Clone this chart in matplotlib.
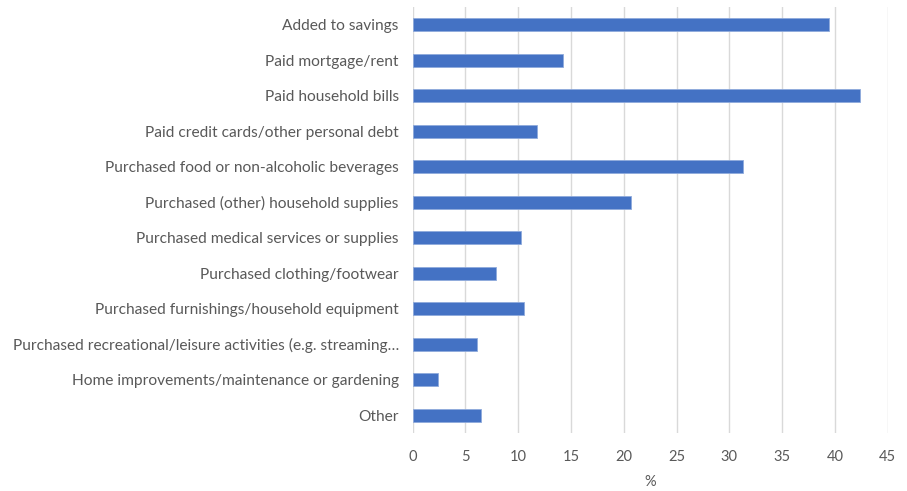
import matplotlib.pyplot as plt

plt.rcParams['font.family'] = ['Lato', 'DejaVu Sans']

categories = [
    'Added to savings',
    'Paid mortgage/rent',
    'Paid household bills',
    'Paid credit cards/other personal debt',
    'Purchased food or non-alcoholic beverages',
    'Purchased (other) household supplies',
    'Purchased medical services or supplies',
    'Purchased clothing/footwear',
    'Purchased furnishings/household equipment',
    'Purchased recreational/leisure activities (e.g. streaming\u2026',
    'Home improvements/maintenance or gardening',
    'Other',
]
values = [39.4, 14.2, 42.4, 11.8, 31.3, 20.7, 10.3, 7.9, 10.5, 6.1, 2.4, 6.5]
xticks = [0, 5, 10, 15, 20, 25, 30, 35, 40, 45]

text_col = '#595959'

fig = plt.figure(figsize=(9.07, 4.91), dpi=100)
ax = fig.add_axes([412.7 / 907, 1 - 433 / 491, 475 / 907, 426 / 491])

pos = list(range(len(categories)))[::-1]
ax.barh(pos, values, height=0.36, color='#4472C4', edgecolor='#8faadc',
        linewidth=0.6, zorder=3)

ax.set_xlim(0, 45)
ax.set_ylim(-0.5, len(categories) - 0.5)
ax.set_xticks(xticks)
ax.set_xticklabels([str(t) for t in xticks])
ax.set_yticks(pos)
ax.set_yticklabels(categories)
ax.grid(axis='x', color='#d9d9d9', linewidth=1, zorder=0)
for s in ax.spines.values():
    s.set_visible(False)
ax.tick_params(axis='both', length=0, colors=text_col, labelsize=10)
ax.tick_params(axis='y', labelsize=11.2, pad=10)
ax.tick_params(axis='x', labelsize=10.5, pad=12)
ax.set_xlabel('%', color=text_col, fontsize=10.5, labelpad=8)

plt.savefig('out.png', dpi=100)
